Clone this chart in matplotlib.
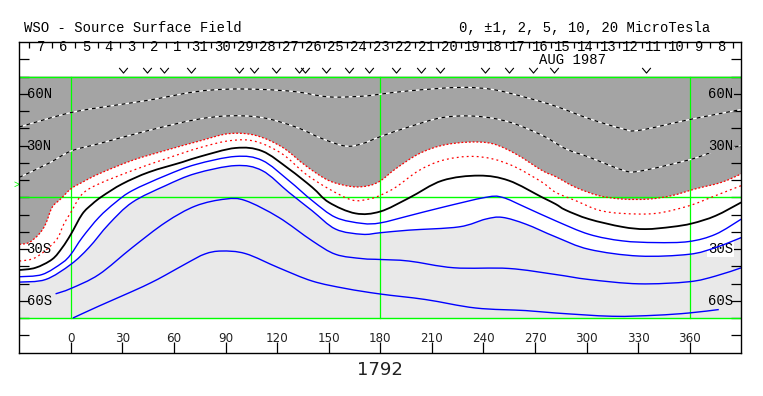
import matplotlib
matplotlib.use('Agg')
import matplotlib.pyplot as plt
import numpy as np
from matplotlib.path import Path
from matplotlib.patches import PathPatch

# ---------------- data ----------------
# Contours on the source surface: longitude (deg) / latitude (deg)
p10_lon = [-30, 0, 26, 45.4, 72.5, 91.9, 111.3, 130.7, 150.1, 169.5, 180.3, 196.6, 225.8, 245.2, 264.6, 282, 301.4, 320.7, 330.4, 359.5, 390]
p10_lat = [40.8, 49.1, 53.4, 56.3, 61.2, 62.7, 62.5, 61.2, 58.2, 58.6, 59.8, 61.7, 63.7, 62.5, 57.9, 52.8, 45.6, 39.8, 38.8, 45.0, 50.9]

p5_lon = [-30, -12.8, 0, 16.3, 45.4, 72.5, 91.9, 111.3, 130.7, 146.2, 159.8, 169.5, 180.3, 196.6, 216, 235.4, 254.8, 274.2, 287.9, 301.4, 320.7, 330.4, 359.5, 375, 390]
p5_lat = [11.6, 19.8, 26.8, 31.1, 38.8, 45.0, 47.2, 46.2, 40.8, 34.0, 29.7, 31.1, 35.3, 40.8, 46.2, 47.0, 43.7, 35.9, 28.1, 23.3, 15.9, 15.1, 21.7, 26.8, 29.9]

r2_lon = [-30, -24.4, -18.6, -14.7, -10.9, -6, 0, 6.6, 16.3, 35.7, 55.1, 75.4, 91.9, 107.4, 122.9, 136.5, 150.1, 163.7, 173.4, 180.3, 188.9, 202.4, 216, 231.5, 245.2, 258.7, 274.2, 282, 293.6, 307.1, 320.7, 336.2, 349.6, 363.3, 378.5, 390]
r2_lat = [-27.2, -26.2, -21.4, -15.5, -5.8, -1.0, 4.9, 8.7, 13.6, 21.4, 27.2, 32.8, 36.9, 35.9, 29.1, 18.4, 9.7, 6.2, 6.8, 9.7, 16.5, 25.2, 30.1, 32.0, 31.1, 25.2, 15.5, 12.0, 5.8, 1.0, -1.0, -1.0, 1.0, 4.9, 8.7, 13.6]

r1_lon = [-30, -20.6, -8.9, -4.1, 0, 6.6, 16.3, 35.7, 55.1, 75.4, 93.0, 107.4, 122.9, 136.5, 150.1, 163.7, 173.4, 180, 188.9, 202.4, 216, 231.5, 245.2, 258.7, 274.2, 282, 293.6, 307.1, 320.7, 340.2, 359.5, 375, 390]
r1_lat = [-36.9, -34.9, -25.2, -15.5, -8.7, 1.9, 7.8, 15.5, 22.3, 28.9, 32.9, 32.4, 25.2, 13.6, 4.9, -1.6, -1.0, 1.2, 5.8, 15.5, 21.4, 23.7, 22.3, 17.5, 8.7, 2.9, -1.9, -7.4, -9.3, -9.3, -4.9, 1.0, 6.8]

n0_lon = [-30, -20.6, -10.9, -5, 0, 6.6, 12.4, 18.2, 29.9, 45.4, 64.8, 75.4, 95.8, 111.3, 126.8, 140.4, 150.1, 165.6, 180, 196.6, 216, 237.4, 254.8, 274.2, 282, 287.9, 301.4, 320.7, 334.3, 349.6, 361.4, 375, 390]
n0_lat = [-42.1, -40.8, -35.9, -29.1, -21.4, -9.7, -3.9, 0.6, 7.8, 14.6, 20.4, 23.7, 28.6, 26.8, 16.5, 5.8, -2.9, -9.3, -8.2, -0.4, 9.7, 12.6, 9.7, 0.0, -3.9, -7.4, -12.6, -17.1, -18.4, -17.1, -15.1, -10.7, -2.9]

b1_lon = [-30, -16.7, -5, 0, 6.6, 16.3, 26, 35.7, 55.1, 72.5, 95.8, 111.3, 126.8, 140.4, 154, 169.5, 180, 196.6, 216, 241.3, 251, 264.6, 282, 301.4, 320.7, 340.2, 359.5, 375, 390]
b1_lat = [-46.0, -44.7, -37.9, -33.0, -23.3, -11.6, -2.9, 3.9, 12.6, 19.0, 23.7, 21.4, 9.7, -1.9, -11.6, -15.1, -14.8, -10.7, -5.8, 0.0, 0.0, -5.8, -13.6, -21.4, -25.2, -26.2, -25.6, -21.4, -12.6]

b2_lon = [-30, -14.7, 0, 10.5, 22.1, 35.7, 55.1, 72.5, 95.8, 111.3, 126.8, 140.4, 154, 169.5, 180, 196.6, 225.8, 241.3, 251, 264.6, 282, 301.4, 330.4, 359.5, 375, 390]
b2_lat = [-49.1, -47.6, -38.8, -29.1, -15.5, -2.9, 6.8, 13.8, 18.4, 15.5, 2.9, -7.8, -18.4, -21.4, -20.5, -19.0, -17.1, -12.6, -11.6, -15.5, -22.9, -30.1, -34.0, -33.0, -29.1, -23.3]

b5_lon = [-8.9, 0, 16.3, 35.7, 55.1, 72.5, 89.9, 101.6, 120.9, 140.4, 154, 169.5, 180, 196.6, 222.8, 254.8, 282, 301.4, 330.4, 359.5, 375, 390]
b5_lat = [-55.9, -52.8, -44.7, -29.1, -14.5, -5.0, -1.0, -1.9, -11.6, -25.2, -33.0, -35.5, -36.0, -36.9, -40.8, -41.2, -44.7, -47.6, -50.1, -48.9, -45.6, -40.8]

b10_lon = [1.2, 16.3, 35.7, 46.5, 55.1, 67.7, 78.0, 87.6, 101.6, 120.9, 140.4, 159.8, 180, 206.3, 235.4, 264.6, 282, 315, 340.2, 359.5, 376.9]
b10_lat = [-69.9, -63.0, -54.5, -49.5, -45.0, -38.0, -32.8, -31.1, -32.6, -40.8, -48.5, -52.8, -56.0, -59.2, -64.1, -65.6, -67.0, -68.9, -68.3, -67.0, -65.0]

# Days of observation ("v" marks), longitude
obs_lon = [30.5, 44.4, 54.1, 70.0, 97.7, 106.5, 119.5, 132.5, 136.0, 148.2, 161.7, 173.4,
           188.9, 203.4, 214.7, 240.7, 254.8, 268.8, 281.0, 334.7]

# Calendar: day labels (left to right), day number counted from Aug 0 1987
day_labels = ['7', '6', '5', '4', '3', '2', '1', '31', '30', '29', '28', '27', '26', '25', '24',
              '23', '22', '21', '20', '19', '18', '17', '16', '15', '14', '13', '12', '11', '10', '9', '8']
day_number = [38, 37, 36, 35, 34, 33, 32, 31, 30, 29, 28, 27, 26, 25, 24,
              23, 22, 21, 20, 19, 18, 17, 16, 15, 14, 13, 12, 11, 10, 9, 8]
rotation_start = 9.9          # Aug 9.9 1987, start of Carrington rotation 1792
synodic_period = 27.2753
month_label = 'AUG 1987'
rotation = '1792'

lat_ticks = [60, 30, -30, -60]
lat_labels = ['60N', '30N', '30S', '60S']
lon_ticks = list(range(0, 361, 30))
earth_b0 = 7.0


def smooth_path(xs, ys):
    """Smooth cubic Bezier path through the read points (Catmull-Rom)."""
    P = np.column_stack([xs, ys]).astype(float)
    n = len(P)
    verts = [P[0]]
    codes = [Path.MOVETO]
    for i in range(n - 1):
        p0 = P[i - 1] if i > 0 else P[i]
        p1, p2 = P[i], P[i + 1]
        p3 = P[i + 2] if i + 2 < n else P[i + 1]
        verts += [p1 + (p2 - p0) / 6.0, p2 - (p3 - p1) / 6.0, p2]
        codes += [Path.CURVE4] * 3
    return verts, codes


# ---------------- figure ----------------
W, H, DPI = 763, 396, 100
fig = plt.figure(figsize=(W / DPI, H / DPI), dpi=DPI)
fig.patch.set_facecolor('white')
ax = fig.add_axes([19.3 / W, 1 - 352.7 / H, 722 / W, 310.7 / H])
ax.set_xlim(-30, 390)
ax.set_ylim(-90, 90)
ax.set_facecolor('white')

DARK = '#a4a4a4'
LIGHT = '#e9e9e9'
GREEN = '#00ff00'
MONO = 'Liberation Mono'
SANS = 'DejaVu Sans'


def region(xs, ys, lat_edge, color):
    v, c = smooth_path(xs, ys)
    v = list(v) + [(xs[-1], lat_edge), (xs[0], lat_edge), (xs[0], ys[0])]
    c = list(c) + [Path.LINETO, Path.LINETO, Path.CLOSEPOLY]
    ax.add_patch(PathPatch(Path(v, c), facecolor=color, edgecolor='none', lw=0, zorder=1))


def curve(xs, ys, **kw):
    v, c = smooth_path(xs, ys)
    ax.add_patch(PathPatch(Path(v, c), fill=False, **kw))


# fills
region(r2_lon, r2_lat, 70, DARK)
region(b2_lon, b2_lat, -70, LIGHT)

# green reference lines
for la in (70, 0, -70):
    ax.plot([-30, 390], [la, la], color=GREEN, lw=1.0, zorder=2)
for lo in (0, 180, 360):
    ax.plot([lo, lo], [-70, 70], color=GREEN, lw=0.9, zorder=2)

# contours
for lo, la in ((p10_lon, p10_lat), (p5_lon, p5_lat)):
    curve(lo, la, edgecolor='white', lw=0.9, zorder=3)
    curve(lo, la, edgecolor='black', lw=0.9, linestyle=(0, (3, 3)), zorder=3)
curve(r2_lon, r2_lat, edgecolor='red', lw=0.9, linestyle=(0, (1.5, 1.5)), zorder=3)
curve(r1_lon, r1_lat, edgecolor='red', lw=0.9, linestyle=(0, (1.5, 2.5)), zorder=3)
curve(n0_lon, n0_lat, edgecolor='black', lw=1.3, zorder=4)
for lo, la in ((b1_lon, b1_lat), (b2_lon, b2_lat), (b5_lon, b5_lat), (b10_lon, b10_lat)):
    curve(lo, la, edgecolor='#0000ff', lw=1.0, zorder=3)

# axes frame & ticks
for s in ax.spines.values():
    s.set_linewidth(1.0)
    s.set_color('black')
    s.set_zorder(6)
ax.set_yticks(range(-80, 81, 10))
ax.set_xticks(lon_ticks)
ax.tick_params(axis='y', direction='in', length=7, width=0.9, left=True, right=True,
               labelleft=False, labelright=False)
ax.tick_params(axis='x', direction='in', length=8, width=0.9, bottom=True, top=False,
               labelbottom=False)

# latitude labels
for v, t in zip(lat_ticks, lat_labels):
    ax.text(-25.8, v - 2.3, t, family=MONO, fontsize=10, ha='left', va='baseline', zorder=5)
    if v > 0:
        ax.text(385.3, v - 2.3, t, family=MONO, fontsize=10, ha='right', va='baseline',
                zorder=5, bbox=dict(facecolor=DARK, edgecolor='none', pad=0.5))
    elif v == -30:
        ax.text(385.3, v - 2.3, t, family=MONO, fontsize=10, ha='right', va='baseline',
                zorder=2.5, bbox=dict(facecolor='white', edgecolor='none', pad=0.5))
    else:
        ax.text(385.3, v - 2.3, t, family=MONO, fontsize=10, ha='right', va='baseline',
                zorder=5)

# longitude labels
for v in lon_ticks:
    ax.text(v, -83.6, str(v), family=SANS, fontsize=8.6, ha='center', va='baseline',
            color='#222222')
ax.text(180, -103.2, rotation, family=SANS, fontsize=13, ha='center', va='baseline',
        color='#222222', clip_on=False)

# calendar row
deg_per_day = 360.0 / synodic_period
for d, lab in zip(day_number, day_labels):
    lo = 360 - (d + 0.5 - rotation_start) * deg_per_day
    ax.text(lo, 85.0, lab, family=MONO, fontsize=10, ha='center', va='baseline')
tick_days = np.arange(min(day_number), max(day_number) + 2)
tick_lon = 360 - (tick_days - rotation_start) * deg_per_day
tick_lon = tick_lon[(tick_lon > -30) & (tick_lon < 390)]
ax.vlines(tick_lon, 86.3, 90, color='black', lw=0.9)
ax.text(292, 77.0, month_label, family=MONO, fontsize=10, ha='center', va='baseline')

# observation marks (small "v" glyph-like markers)
v_marker = Path([(-1.0, 0.6), (0.0, -0.6), (1.0, 0.6)],
                [Path.MOVETO, Path.LINETO, Path.LINETO])
ax.plot(obs_lon, [74.0] * len(obs_lon), linestyle='none', marker=v_marker,
        markersize=6.2, markerfacecolor='none', markeredgecolor='black',
        markeredgewidth=0.8, zorder=5)

# Earth latitude marker
ax.text(-29.8, earth_b0, '>', family=MONO, fontsize=7, ha='right', va='center',
        color=GREEN, clip_on=False)

# header
fig.text(24 / W, 1 - 32 / H, 'WSO - Source Surface Field', family=MONO, fontsize=10,
         ha='left', va='baseline')
fig.text(710 / W, 1 - 32 / H, '0, \u00b11, 2, 5, 10, 20 MicroTesla', family=MONO,
         fontsize=10, ha='right', va='baseline')

fig.savefig('out.png', dpi=DPI)
